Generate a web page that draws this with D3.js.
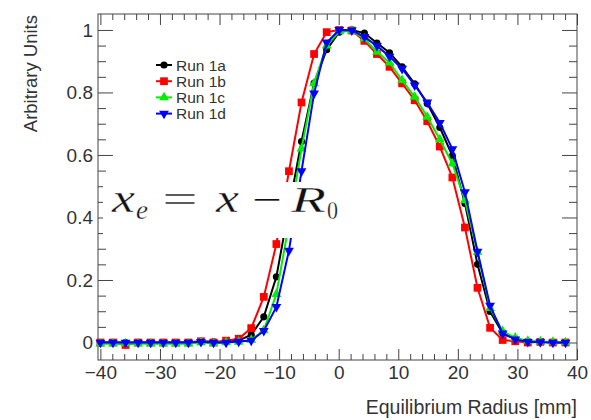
<!DOCTYPE html>
<html>
<head>
<meta charset="utf-8">
<script src="https://cdn.jsdelivr.net/npm/d3@7"></script>
<style>
  html, body { margin: 0; padding: 0; background: #fff; }
  svg { display: block; }
</style>
</head>
<body>
<div id="chart"></div>
<script>
// ---------- Data ----------
// bin centres: -40 mm, spacing ~2.11 mm (38 bins)
const radius = d3.range(38).map(k => +(-40 + 2.11 * k).toFixed(2));

const run1a = [0, 0, 0, 0, 0, 0, 0, 0, 0.004, 0.002, 0.003, 0.006, 0.025, 0.082, 0.21, 0.43, 0.643, 0.83, 0.937, 0.993,
  1.0, 0.99, 0.958, 0.927, 0.882, 0.828, 0.765, 0.688, 0.597, 0.445, 0.25, 0.099, 0.03, 0.012, 0.004, 0.002, 0, 0];
const run1b = [0, 0, -0.008, 0, 0, 0, 0, 0, 0.004, 0, 0.006, 0.012, 0.046, 0.146, 0.315, 0.548, 0.768, 0.923, 0.993, 1.0,
  0.998, 0.965, 0.923, 0.882, 0.829, 0.775, 0.708, 0.627, 0.528, 0.368, 0.175, 0.047, 0.008, 0.004, 0, 0.002, 0, 0];
const run1c = [-0.004, -0.004, -0.003, -0.004, -0.004, -0.004, -0.004, -0.004, 0, -0.003, 0, 0.002, 0.008, 0.039, 0.155, 0.38, 0.62, 0.829, 0.95, 0.995,
  0.997, 0.972, 0.93, 0.895, 0.839, 0.786, 0.722, 0.65, 0.572, 0.455, 0.29, 0.11, 0.036, 0.015, 0.005, 0.003, 0.002, 0];
const run1d = [0, 0, 0, 0, 0, 0, 0, 0, 0.002, 0, 0, 0.003, 0.006, 0.037, 0.114, 0.294, 0.548, 0.797, 0.96, 1.0,
  0.999, 0.978, 0.949, 0.915, 0.876, 0.823, 0.768, 0.703, 0.619, 0.481, 0.291, 0.118, 0.029, 0.01, 0.002, 0.001, 0, 0];

const seriesNames = ['Run 1a', 'Run 1b', 'Run 1c', 'Run 1d'];
const seriesValues = [run1a, run1b, run1c, run1d];

const xMajorTicks = [-40, -30, -20, -10, 0, 10, 20, 30, 40];
const yMajorTicks = [0, 0.2, 0.4, 0.6, 0.8, 1];
const yTickLabels = ['0', '0.2', '0.4', '0.6', '0.8', '1'];

// ---------- Setup ----------
const W = 591, H = 420;
const colors = ['#000000', '#ff0000', '#00ee00', '#0000ff'];
const shapes = [d3.symbolCircle, d3.symbolSquare, d3.symbolTriangle, d3.symbolTriangle];
const sizes = [40, 60, 42, 42];
const rotate = [0, 0, 0, 180];
const textCol = '#333';
const font = '"Liberation Sans", Arial, Helvetica, sans-serif';

const svg = d3.select('#chart').append('svg').attr('width', W).attr('height', H);

const x = d3.scaleLinear().domain([-40.4, 40]).range([98, 577]);
const y = d3.scaleLinear().domain([-0.056, 1.051]).range([360, 14]);

const frame = { l: 98, r: 577, t: 14, b: 360 };

// ---------- Axes ----------
const xMinor = d3.range(-40, 41, 2).filter(v => v % 10 !== 0);
const yMinor = d3.range(0, 21).map(i => +(i * 0.05).toFixed(2)).filter((v, i) => i % 4 !== 0);

function styleAxis(g) {
  g.select('.domain').remove();
  g.selectAll('line').attr('stroke', '#444').attr('stroke-width', 1);
  g.selectAll('text').attr('fill', textCol).attr('font-family', font).attr('font-size', 19);
}

// bottom
svg.append('g').attr('transform', `translate(0,${frame.b})`)
  .call(d3.axisBottom(x).tickValues(xMajorTicks).tickSize(-11).tickPadding(6).tickFormat(d3.format('d')))
  .call(styleAxis);
svg.append('g').attr('transform', `translate(0,${frame.b})`)
  .call(d3.axisBottom(x).tickValues(xMinor).tickSize(-6).tickFormat(''))
  .call(styleAxis);
// top
svg.append('g').attr('transform', `translate(0,${frame.t})`)
  .call(d3.axisTop(x).tickValues(xMajorTicks).tickSize(-11).tickFormat(''))
  .call(styleAxis);
svg.append('g').attr('transform', `translate(0,${frame.t})`)
  .call(d3.axisTop(x).tickValues(xMinor).tickSize(-6).tickFormat(''))
  .call(styleAxis);
// left
svg.append('g').attr('transform', `translate(${frame.l},0)`)
  .call(d3.axisLeft(y).tickValues(yMajorTicks).tickSize(-15).tickPadding(5)
    .tickFormat((d, i) => yTickLabels[i]))
  .call(styleAxis);
svg.append('g').attr('transform', `translate(${frame.l},0)`)
  .call(d3.axisLeft(y).tickValues(yMinor).tickSize(-8).tickFormat(''))
  .call(styleAxis);
// right
svg.append('g').attr('transform', `translate(${frame.r},0)`)
  .call(d3.axisRight(y).tickValues(yMajorTicks).tickSize(-15).tickFormat(''))
  .call(styleAxis);
svg.append('g').attr('transform', `translate(${frame.r},0)`)
  .call(d3.axisRight(y).tickValues(yMinor).tickSize(-8).tickFormat(''))
  .call(styleAxis);

svg.append('rect')
  .attr('x', frame.l).attr('y', frame.t)
  .attr('width', frame.r - frame.l).attr('height', frame.b - frame.t)
  .attr('fill', 'none').attr('stroke', '#444').attr('stroke-width', 1);

// axis titles
svg.append('text')
  .attr('x', frame.r).attr('y', 414)
  .attr('text-anchor', 'end')
  .attr('font-family', font).attr('font-size', 19.5).attr('fill', textCol)
  .text('Equilibrium Radius [mm]');

svg.append('text')
  .attr('transform', 'translate(37,15) rotate(-90)')
  .attr('text-anchor', 'end')
  .attr('font-family', font).attr('font-size', 18.5).attr('fill', textCol)
  .text('Arbitrary Units');

// ---------- Series ----------
const line = d3.line().x((d, i) => x(radius[i])).y(d => y(d));

seriesValues.forEach((vals, s) => {
  const g = svg.append('g');
  g.append('path').datum(vals)
    .attr('d', line)
    .attr('fill', 'none').attr('stroke', colors[s]).attr('stroke-width', 2);
  g.selectAll('path.mk').data(vals).join('path')
    .attr('class', 'mk')
    .attr('d', d3.symbol().type(shapes[s]).size(sizes[s]))
    .attr('transform', (d, i) => `translate(${x(radius[i])},${y(d)}) rotate(${rotate[s]})`)
    .attr('fill', colors[s]);
});

// ---------- Legend ----------
const leg = svg.append('g').attr('transform', 'translate(156,65)');
seriesNames.forEach((name, s) => {
  const row = leg.append('g').attr('transform', `translate(0,${s * 16.2})`);
  row.append('line').attr('x1', 0).attr('x2', 16).attr('y1', 0).attr('y2', 0)
    .attr('stroke', colors[s]).attr('stroke-width', 2);
  row.append('path')
    .attr('d', d3.symbol().type(shapes[s]).size(sizes[s]))
    .attr('transform', `translate(8,0) rotate(${rotate[s]})`)
    .attr('fill', colors[s]);
  row.append('text')
    .attr('x', 20).attr('y', 5.5)
    .attr('font-family', font).attr('font-size', 15.5).attr('fill', textCol)
    .text(name);
});

// ---------- Formula overlay ----------
svg.append('rect').attr('x', 103).attr('y', 182).attr('width', 240).attr('height', 56).attr('fill', '#fff');

const serif = '"Liberation Serif", "Times New Roman", serif';
const glyphs = [
  { t: 'x', x: 112, y: 212, size: 40, w: 23, it: true },
  { t: 'e', x: 136, y: 219, size: 28, w: 12, it: true },
  { t: '=', x: 162, y: 213, size: 40, w: 36, it: false },
  { t: 'x', x: 216, y: 212, size: 40, w: 23, it: true },
  { t: '\u2212', x: 252, y: 213, size: 40, w: 30, it: false },
  { t: 'R', x: 291, y: 212, size: 35, w: 35, it: true },
  { t: '0', x: 327, y: 219, size: 26, w: 11, it: false }
];
// thin white outline over the glyphs to lighten the stretched strokes
const fg = svg.append('g').attr('font-family', serif).attr('fill', '#111')
  .attr('stroke', '#fff').attr('stroke-width', 0.35);
glyphs.forEach(gl => {
  fg.append('text')
    .attr('x', gl.x).attr('y', gl.y)
    .attr('font-size', gl.size)
    .attr('font-style', gl.it ? 'italic' : 'normal')
    .attr('textLength', gl.w).attr('lengthAdjust', 'spacingAndGlyphs')
    .text(gl.t);
});
</script>
</body>
</html>
